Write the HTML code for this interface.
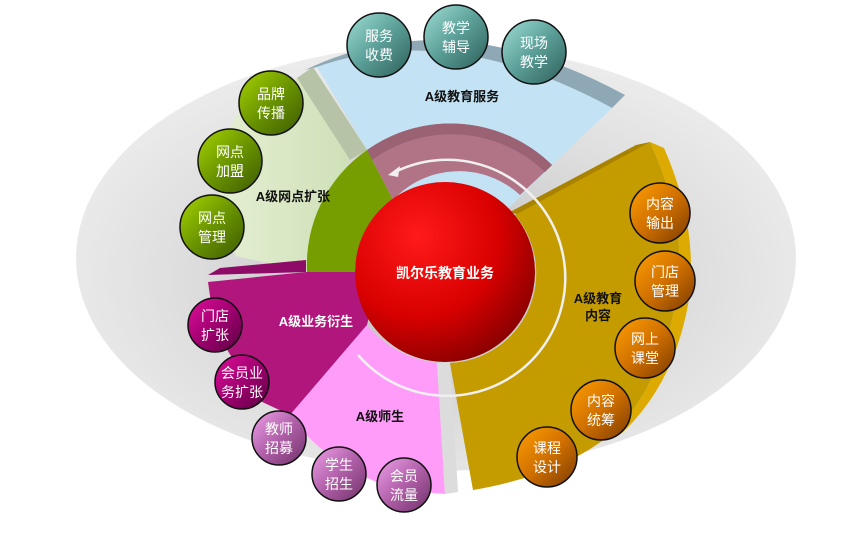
<!DOCTYPE html>
<html><head><meta charset="utf-8"><style>
html,body{margin:0;padding:0;background:#fff;}
svg{display:block;}
text{font-family:"Liberation Sans","Noto Sans CJK SC",sans-serif;}
.n{fill:#fff;font-size:14px;text-anchor:middle;}
.l{fill:#111;font-size:13px;font-weight:bold;text-anchor:middle;}
</style></head><body>
<svg width="866" height="533" viewBox="0 0 866 533" xmlns="http://www.w3.org/2000/svg">
<defs>
<radialGradient id="bg" cx="0.5" cy="0.55" r="0.55"><stop offset="0" stop-color="#bdbdbd"/><stop offset="0.6" stop-color="#dcdcdc"/><stop offset="1" stop-color="#ececec"/></radialGradient>
<radialGradient id="red" cx="0.35" cy="0.3" r="0.75"><stop offset="0" stop-color="#ff1a1a"/><stop offset="0.6" stop-color="#d80000"/><stop offset="1" stop-color="#8a0000"/></radialGradient>
<linearGradient id="teal" x1="0" y1="0" x2="1" y2="1"><stop offset="0" stop-color="#9fe0d6"/><stop offset="0.5" stop-color="#5a9e97"/><stop offset="1" stop-color="#2e5d58"/></linearGradient>
<linearGradient id="grn" x1="0" y1="0" x2="1" y2="1"><stop offset="0" stop-color="#a6d400"/><stop offset="0.5" stop-color="#6a9400"/><stop offset="1" stop-color="#3c5800"/></linearGradient>
<linearGradient id="mag" x1="0" y1="0" x2="1" y2="1"><stop offset="0" stop-color="#e0109a"/><stop offset="0.5" stop-color="#a00070"/><stop offset="1" stop-color="#5a0040"/></linearGradient>
<linearGradient id="lp" x1="0" y1="0" x2="1" y2="1"><stop offset="0" stop-color="#f0a0e8"/><stop offset="0.5" stop-color="#b060a8"/><stop offset="1" stop-color="#6e3068"/></linearGradient>
<linearGradient id="org" x1="0" y1="0" x2="1" y2="1"><stop offset="0" stop-color="#ffa000"/><stop offset="0.5" stop-color="#d07000"/><stop offset="1" stop-color="#7a3a00"/></linearGradient>
<linearGradient id="lg" x1="0" y1="0" x2="1" y2="0"><stop offset="0" stop-color="#e4efd2"/><stop offset="1" stop-color="#cfe0b8"/></linearGradient>
</defs>
<ellipse cx="436" cy="258" rx="360" ry="213" fill="url(#bg)"/>
<path d="M305,70 Q450,0 625,95 L612,108 Q450,20 317,67 Z" fill="#8fa8b6"/>
<path d="M317,67 Q450,20 612,108 L552,165 L445,272 L367,150 Z" fill="#c3e2f4"/>
<path d="M297,78 L313,67 L367,150 L350,160 Z" fill="#b6c3a6"/>
<path d="M297,78 L350,160 L307,272 L236,256 Q200,170 240,110 Z" fill="url(#lg)"/>
<path d="M367,150 A145,145 0 0 1 552,165 L520,195 A90,90 0 0 0 393,200 Z" fill="#b07486"/>
<path d="M367,150 A145,145 0 0 1 552,165 L545,172 A135,135 0 0 0 372,160 Z" fill="#9a6272"/>
<path d="M307,272 A140,140 0 0 1 367,150 L393,200 A90,90 0 0 0 355,272 Z" fill="#769e00"/>
<path d="M208,275 L220,268 L306,260 L306,272 Z" fill="#8e0c68"/>
<path d="M208,282 L306,272 L380,272 L367,325 L290,415 L258,400 L215,330 Z" fill="#b0167c"/>
<path d="M367,325 L290,415 Q330,470 400,490 L445,494 L437,363 Q395,358 367,325 Z" fill="#ff9cfa"/>
<path d="M437,363 L445,494 L458,492 L450,362 Z" fill="#dcdcdc"/>
<path d="M650,142 L664,148 Q700,230 688,305 Q673,385 622,433 L610,435 Q660,390 676,300 Q690,230 650,142 Z" fill="#dcaa00"/>
<path d="M510,212 L636,145 L650,142 L528,218 Z" fill="#a88200"/>
<path d="M515,215 L650,142 Q690,230 676,300 Q660,390 610,435 Q560,475 473,490 L450,363 A90,90 0 0 0 515,215 Z" fill="#c49c00"/>
<path d="M395,172 A118,118 0 1 1 358,355" fill="none" stroke="#f0f0f0" stroke-width="2.5"/>
<path d="M388,175 L400,166 L398,177 Z" fill="#f0f0f0"/>
<circle cx="445" cy="272" r="90" fill="url(#red)"/>
<text x="445" y="278" class="n" font-weight="bold" font-size="15">凯尔乐教育业务</text>
<text x="462" y="101" class="l">A级教育服务</text>
<text x="293" y="201" class="l">A级网点扩张</text>
<text x="316" y="326" class="l" style="fill:#fff">A级业务衍生</text>
<text x="380" y="421" class="l">A级师生</text>
<text x="598" y="303" class="l">A级教育</text>
<text x="598" y="320" class="l">内容</text>
<g stroke="#111" stroke-width="1.5">
<circle cx="379" cy="45" r="32" fill="url(#teal)"/>
<circle cx="456" cy="37" r="32" fill="url(#teal)"/>
<circle cx="534" cy="52" r="32" fill="url(#teal)"/>
<circle cx="271" cy="103" r="32" fill="url(#grn)"/>
<circle cx="230" cy="161" r="32" fill="url(#grn)"/>
<circle cx="212" cy="227" r="32" fill="url(#grn)"/>
<circle cx="215" cy="325" r="27" fill="url(#mag)"/>
<circle cx="242" cy="382" r="27" fill="url(#mag)"/>
<circle cx="279" cy="438" r="27" fill="url(#lp)"/>
<circle cx="339" cy="474" r="27" fill="url(#lp)"/>
<circle cx="404" cy="485" r="27" fill="url(#lp)"/>
<circle cx="660" cy="213" r="30" fill="url(#org)"/>
<circle cx="665" cy="281" r="30" fill="url(#org)"/>
<circle cx="645" cy="348" r="30" fill="url(#org)"/>
<circle cx="601" cy="410" r="30" fill="url(#org)"/>
<circle cx="547" cy="457" r="30" fill="url(#org)"/>
</g>
<g class="n">
<text x="379" y="41">服务</text><text x="379" y="60">收费</text>
<text x="456" y="33">教学</text><text x="456" y="52">辅导</text>
<text x="534" y="48">现场</text><text x="534" y="67">教学</text>
<text x="271" y="99">品牌</text><text x="271" y="118">传播</text>
<text x="230" y="157">网点</text><text x="230" y="176">加盟</text>
<text x="212" y="223">网点</text><text x="212" y="242">管理</text>
<text x="215" y="321">门店</text><text x="215" y="340">扩张</text>
<text x="242" y="378">会员业</text><text x="242" y="397">务扩张</text>
<text x="279" y="434">教师</text><text x="279" y="453">招募</text>
<text x="339" y="470">学生</text><text x="339" y="489">招生</text>
<text x="404" y="481">会员</text><text x="404" y="500">流量</text>
<text x="660" y="209">内容</text><text x="660" y="228">输出</text>
<text x="665" y="277">门店</text><text x="665" y="296">管理</text>
<text x="645" y="344">网上</text><text x="645" y="363">课堂</text>
<text x="601" y="406">内容</text><text x="601" y="425">统筹</text>
<text x="547" y="453">课程</text><text x="547" y="472">设计</text>
</g>
</svg>
</body></html>
